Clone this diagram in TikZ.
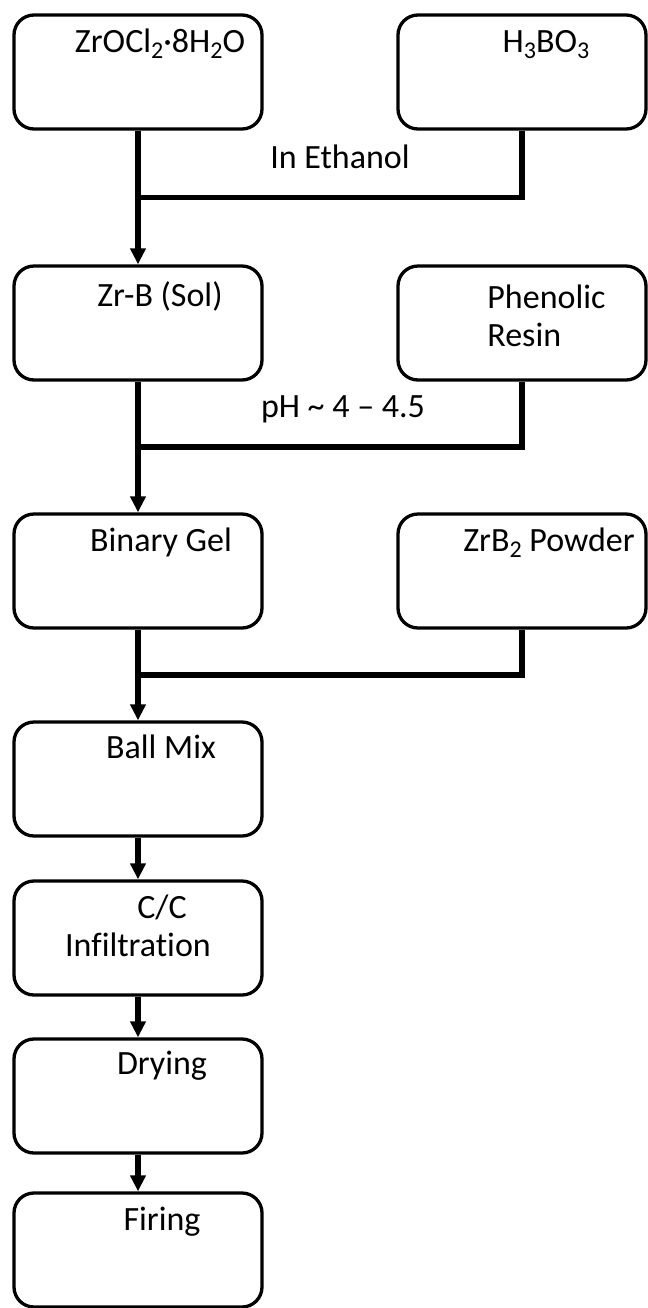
\documentclass[tikz,border=0pt]{standalone}
\usepackage{fontspec}
\setmainfont{Carlito}[Ligatures=NoCommon]
\usetikzlibrary{arrows.meta,calc}

\newcommand{\chemsub}[1]{\raisebox{-0.4ex}{\fontsize{12}{12}\selectfont #1}}

\begin{document}
\begin{tikzpicture}[x=0.5pt,y=-0.5pt,>={Triangle[length=8pt,width=7.5pt]}]
	\tikzstyle{box}=[draw,rounded corners=10pt,line width=1.65pt,minimum width=124pt,minimum height=57pt,inner sep=0pt];
	\tikzstyle{txt}=[anchor=base,inner sep=0pt,font=\fontsize{17}{19}\selectfont];
	\tikzstyle{link}=[draw,line width=2.8pt];

	\useasboundingbox (0, 0) rectangle (648, 1308);

	% left column
	\node at (138, 72)   (zrocl)  [box] {};
	\node at (138, 323)  (zrb)    [box] {};
	\node at (138, 571)  (gel)    [box] {};
	\node at (138, 779)  (ball)   [box] {};
	\node at (138, 938)  (infil)  [box] {};
	\node at (138, 1096) (dry)    [box] {};
	\node at (138, 1250) (fire)   [box] {};

	% right column
	\node at (522, 72)   (h3bo)   [box] {};
	\node at (522, 323)  (resin)  [box] {};
	\node at (522, 571)  (powder) [box] {};

	% texts (multi-line ones sit on their last line)
	\node at ([shift={(22, 39)}]zrocl.north)  (zrocltxt)  [txt] {ZrOCl\chemsub{2}·8H\chemsub{2}O};
	\node at ([shift={(24, 39)}]h3bo.north)   (h3botxt)   [txt] {H\chemsub{3}BO\chemsub{3}};
	\node at ([shift={(22, 42)}]zrb.north)    (zrbtxt)    [txt] {Zr-B (Sol)};
	\node at ([shift={(-35, 82)}]resin.north) (resintxt)  [txt,anchor=base west,align=left] {Phenolic\\Resin};
	\node at ([shift={(23, 39)}]gel.north)    (geltxt)    [txt] {Binary Gel};
	\node at ([shift={(27, 39)}]powder.north) (powdertxt) [txt] {ZrB\chemsub{2} Powder};
	\node at ([shift={(23, 38)}]ball.north)   (balltxt)   [txt] {Ball Mix};
	\node at ([shift={(0, 77)}]infil.north)   (infiltxt)  [txt,align=center] {\hspace*{24pt}C/C\\Infiltration};
	\node at ([shift={(24, 37)}]dry.north)    (drytxt)    [txt] {Drying};
	\node at ([shift={(24, 39)}]fire.north)   (firetxt)   [txt] {Firing};

	\node at (340, 168) (ethanol) [txt] {In Ethanol};
	\node at (343, 417) (ph)      [txt] {pH \textasciitilde\ 4 -- 4.5};

	% joins
	\coordinate (m1) at ($(zrocl.south)!0.5!(zrb.north)$);
	\coordinate (m2) at ($(zrb.south)!0.5!(gel.north)$);
	\coordinate (m3) at ($(gel.south)!0.5!(ball.north)$);

	\draw[link,->] (zrocl) -- (zrb);
	\draw[link] (h3bo) |- (m1);
	\draw[link,->] (zrb) -- (gel);
	\draw[link] (resin) |- (m2);
	\draw[link,->] (gel) -- (ball);
	\draw[link] (powder) |- (m3);
	\draw[link,->] (ball) -- (infil);
	\draw[link,->] (infil) -- (dry);
	\draw[link,->] (dry) -- (fire);
\end{tikzpicture}
\end{document}
